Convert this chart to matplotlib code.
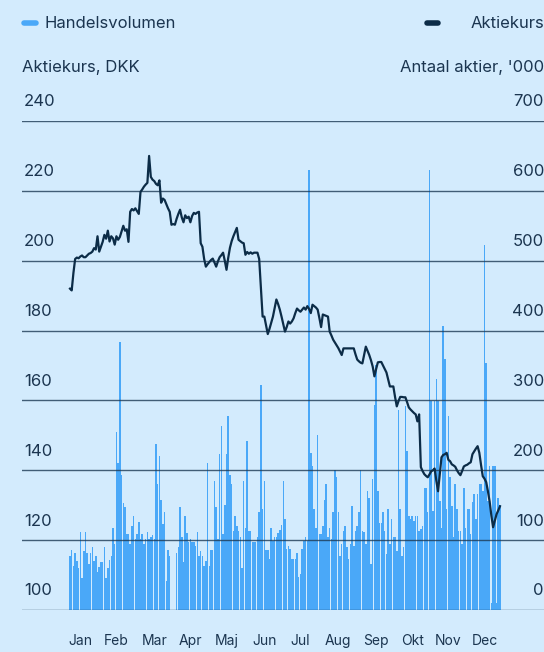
import matplotlib.pyplot as plt
from matplotlib.lines import Line2D

# colours
bg = '#d3ebfd'
bar_col = '#4aa8f8'
line_col = '#0c2c47'
txt_col = '#1b3550'

plt.rcParams['font.family'] = ['Inter', 'DejaVu Sans']

# daily share price, DKK
price = [
    192.0, 191.5, 196.5, 200.5, 200.9, 200.7, 201.2, 201.5, 201.0, 201.0,
    201.5, 202.0, 202.2, 202.6, 203.6, 203.2, 207.0, 202.6, 204.0, 205.4,
    207.4, 206.3, 208.6, 205.5, 207.0, 206.4, 204.6, 207.0, 206.0, 206.8,
    208.4, 210.0, 208.6, 209.0, 205.4, 214.0, 214.8, 214.4, 215.0, 214.2,
    213.4, 219.7, 220.4, 221.2, 221.8, 222.3, 230.0, 224.0, 223.2, 222.8,
    222.0, 221.6, 223.0, 216.6, 217.8, 217.4, 216.2, 215.0, 214.0, 210.3,
    210.5, 210.3, 212.0, 213.4, 214.6, 212.4, 211.0, 213.0, 212.2, 212.6,
    211.0, 212.8, 213.7, 213.4, 213.8, 214.0, 205.0, 204.0, 200.5, 198.3,
    199.0, 199.6, 200.2, 200.6, 199.5, 198.3, 199.8, 201.0, 201.6, 202.3,
    200.0, 197.4, 200.8, 203.7, 205.6, 207.0, 208.2, 209.4, 206.0, 205.6,
    205.2, 205.0, 201.7, 202.5, 202.0, 202.4, 202.0, 202.3, 202.3, 202.3,
    200.5, 192.0, 184.0, 184.0, 181.5, 179.0, 180.5, 182.3, 184.0, 186.5,
    188.9, 187.6, 186.0, 184.0, 181.8, 179.7, 181.0, 182.6, 182.0, 182.6,
    183.5, 185.0, 186.3, 185.8, 185.4, 186.0, 186.6, 186.0, 187.0, 186.2,
    185.0, 187.4, 187.0, 186.6, 186.0, 183.6, 181.0, 184.6, 184.4, 184.2,
    184.0, 179.7, 178.6, 177.4, 176.6, 175.8, 175.0, 174.0, 173.0, 174.9,
    174.9, 174.9, 174.9, 174.9, 174.9, 174.9, 173.2, 171.7, 171.2, 170.8,
    170.6, 173.0, 175.4, 174.2, 173.0, 171.5, 169.7, 166.9, 169.0, 170.9,
    171.0, 171.0, 170.0, 169.0, 168.0, 166.0, 164.0, 164.0, 164.0, 161.0,
    158.3, 159.8, 161.0, 161.0, 160.9, 160.9, 159.5, 158.0, 157.4, 156.9,
    156.4, 156.0, 154.0, 156.0, 140.9, 139.8, 138.9, 138.4, 138.0, 138.8,
    139.7, 140.0, 140.5, 137.0, 134.0, 139.0, 143.7, 144.4, 144.6, 145.0,
    143.0, 142.6, 141.7, 141.4, 141.0, 140.0, 139.2, 138.6, 139.8, 141.1,
    141.4, 141.6, 142.0, 142.3, 144.6, 145.4, 146.2, 146.9, 145.0, 141.5,
    138.3, 137.6, 136.6, 134.0, 131.0, 127.0, 123.7, 125.5, 127.4, 128.5,
    129.7,
]

# daily traded volume, '000 shares
volume = [
    77, 86, 63, 81, 70, 60, 112, 46, 85, 112,
    81, 66, 81, 90, 70, 77, 55, 62, 68, 68,
    90, 46, 60, 72, 77, 117, 95, 255, 210, 384,
    193, 153, 148, 109, 109, 94, 120, 135, 101, 109,
    126, 101, 109, 95, 101, 112, 101, 104, 108, 101,
    237, 180, 220, 158, 123, 140, 42, 86, 77, 0,
    0, 0, 82, 90, 148, 104, 68, 135, 110, 97,
    101, 98, 98, 92, 112, 77, 85, 77, 63, 70,
    211, 63, 86, 86, 184, 148, 101, 224, 263, 109,
    150, 224, 278, 193, 180, 113, 135, 120, 113, 104,
    60, 184, 117, 242, 113, 113, 97, 98, 98, 105,
    140, 322, 144, 184, 86, 86, 73, 117, 99, 104,
    104, 110, 115, 122, 185, 130, 87, 92, 87, 73,
    73, 73, 82, 47, 51, 87, 99, 105, 99, 630,
    225, 206, 144, 118, 251, 109, 109, 120, 157, 180,
    104, 118, 101, 140, 201, 190, 140, 78, 94, 113,
    120, 90, 73, 94, 149, 92, 113, 120, 140, 201,
    113, 111, 94, 170, 161, 66, 187, 294, 351, 170,
    125, 125, 140, 113, 80, 144, 94, 130, 104, 104,
    85, 287, 144, 78, 90, 292, 228, 135, 130, 135,
    128, 135, 135, 113, 116, 120, 175, 175, 140, 630,
    299, 142, 299, 331, 299, 156, 118, 407, 359, 144,
    278, 190, 149, 104, 180, 144, 113, 113, 94, 175,
    118, 144, 144, 109, 154, 166, 130, 166, 180, 180,
    170, 523, 353, 156, 206, 10, 206, 206, 10, 161,
    150,
]

days = list(range(len(price)))

months = ['Jan', 'Feb', 'Mar', 'Apr', 'Maj', 'Jun', 'Jul', 'Aug', 'Sep', 'Okt', 'Nov', 'Dec']
month_pos = [6, 27, 49, 70, 91, 113, 134, 156, 178, 199, 220, 241]

price_ticks = [100, 120, 140, 160, 180, 200, 220, 240]
vol_ticks = [0, 100, 200, 300, 400, 500, 600, 700]

W, H = 544, 652
fig = plt.figure(figsize=(W / 100, H / 100), dpi=100, facecolor=bg)
ax = fig.add_axes([22 / W, (H - 610) / H, (W - 22) / W, 489 / H])
ax.set_facecolor(bg)
ax2 = ax.twinx()

# volume bars on the back axis
ax.bar(days, volume, width=0.88, color=bar_col, linewidth=0, zorder=2)
ax.set_ylim(0, 700)
ax.set_xlim(-27.9, 275.6)

# price line + grid on the front axis
for v in price_ticks:
    ax2.axhline(v, color='#1d3a54', lw=1.0, alpha=0.8, zorder=1)
ax2.plot(days, price, color=line_col, lw=1.6, zorder=3, solid_joinstyle='round')
ax2.set_ylim(100, 240)

for a in (ax, ax2):
    for s in a.spines.values():
        s.set_visible(False)
    a.set_xticks([])
    a.set_yticks([])

# tick labels sit above the grid lines
for v in price_ticks:
    ax2.annotate(str(v), xy=(0.004, v), xycoords=('axes fraction', 'data'),
                 xytext=(0, 10.5), textcoords='offset points',
                 ha='left', va='baseline', fontsize=12, color=txt_col)
for v in vol_ticks:
    ax.annotate(str(v), xy=(1.0, v), xycoords=('axes fraction', 'data'),
                xytext=(0, 10.5), textcoords='offset points',
                ha='right', va='baseline', fontsize=12, color=txt_col)

for p, m in zip(month_pos, months):
    ax.text(p, -0.063, m, transform=ax.get_xaxis_transform(),
            ha='center', va='center', fontsize=10, color=txt_col)

# axis titles
fig.text(22 / W, 1 - 72 / H, 'Aktiekurs, DKK', ha='left', va='baseline',
         fontsize=12, color=txt_col)
fig.text(1.0, 1 - 72 / H, "Antaal aktier, '000", ha='right', va='baseline',
         fontsize=12, color=txt_col)

# legend
fig.add_artist(Line2D([24 / W, 36 / W], [1 - 23 / H] * 2, color=bar_col, lw=4,
                      transform=fig.transFigure, solid_capstyle='round'))
fig.text(44 / W, 1 - 28 / H, 'Handelsvolumen', ha='left', va='baseline',
         fontsize=12, color=txt_col)
fig.add_artist(Line2D([427 / W, 438 / W], [1 - 23 / H] * 2, color=line_col, lw=4,
                      transform=fig.transFigure, solid_capstyle='round'))
fig.text(1.0, 1 - 28 / H, 'Aktiekurs', ha='right', va='baseline',
         fontsize=12, color=txt_col)

fig.savefig('out.png', dpi=100, facecolor=bg)
